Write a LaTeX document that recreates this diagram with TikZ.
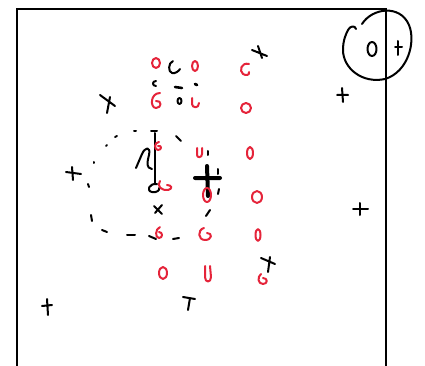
\documentclass[tikz,border=0pt]{standalone}
\usepackage{tikz}
\begin{document}
\begin{tikzpicture}[
    x=1pt, y=-1pt,
    frame/.style={draw=black, line width=2.2pt},
    ink/.style={draw=black, line width=2pt, line cap=round, line join=round},
    boldink/.style={draw=black, line width=4pt, line cap=round},
    redink/.style={draw=markRed, line width=2pt, line cap=round, line join=round}
  ]
    \definecolor{markRed}{RGB}{229,36,58}

    \useasboundingbox[fill=white] (0,0) rectangle (425,366);

    % frame and corner circle
    \draw[frame] (17,366) -- (17,9) -- (386,9) -- (386,366);
    \draw[ink] (362,24) .. controls (372,8) and (400,4) .. (409,25)
      .. controls (416,42) and (408,72) .. (385,79)
      .. controls (362,84) and (343,68) .. (343,50)
      .. controls (343,40) and (346,34) .. (348,30)
      .. controls (350,26) and (355,25) .. (356,29);
    \draw[ink] (372,49) ellipse [x radius=4.5, y radius=7];
    \draw[ink] (395,47) -- (402,47) (398,41) -- (398,55);

    % crosses
    \draw[ink] (252,50) -- (267,56) (258,46) -- (262,58);
    \draw[ink] (100,95) -- (115,106) (110,97) -- (107,113);
    \draw[ink] (66,172) -- (81,174) (72,167) -- (73,180);
    \draw[ink] (337,95) -- (348,95) (342,88) -- (343,102);
    \draw[ink] (353,209) -- (368,209) (360,203) -- (360,215);
    \draw[ink] (42,306) -- (52,305) (47,299) -- (48,315);
    \draw[ink] (183,297) -- (195,299) (190,298) -- (188,310);
    \draw[ink] (261,258) -- (275,264) (270,257) -- (268,272);
    \draw[ink] (154,206) -- (162,214) (162,205) -- (155,213);
    \draw[boldink] (195,178) -- (220,178) (207,166) -- (208,196);

    % black strokes
    \draw[ink] (173,61) .. controls (168,63) and (168,72) .. (172,73) .. controls (175,74) and (179,71) .. (180,69);
    \draw[ink] (156,81) .. controls (152,81) and (152,86) .. (156,86);
    \draw[ink, line width=2.6pt] (175,87) -- (182,88);
    \draw[ink, line width=2.8pt] (195,84) -- (197,85);
    \draw[ink] (179.5,101) ellipse [x radius=2, y radius=3];
    \draw[ink] (136,168) -- (142,154) .. controls (145,147) and (151,146) .. (149,155) .. controls (147,163) and (146,168) .. (152,169);
    \draw[ink] (155,133) -- (155,183);
    \draw[ink] (157,184) .. controls (149,183) and (146,191) .. (152,192) .. controls (157,193) and (160,190) .. (159,188);

    % dashed loop
    \foreach \xa/\ya/\xb/\yb in {115/137/117/136, 134/131/136/131, 151/131/157/131,
        176/136/181/141, 106/146/107/145, 94/162/94/163, 88/184/89/187,
        91/215/92/221, 102/230/107/232, 127/235/135/235, 149/236/156/239,
        173/239/179/238, 206/216/210/210, 208/151/208/155, 218/169/218/174,
        219/189/218/194}
      \draw[ink] (\xa,\ya) -- (\xb,\yb);

    % red marks
    \foreach \cx/\cy/\rx/\ry in {156/63/4/5, 195/66/3/5, 246/108/5/5, 250/153/3/6,
        207/195/4/7, 257/197/5/6, 258/235/2.5/6, 163/273/4/6}
      \draw[redink] (\cx,\cy) ellipse [x radius=\rx, y radius=\ry];
    \draw[redink] (160,93) .. controls (150,93) and (150,108) .. (156,108) .. controls (162,108) and (162,100) .. (156,101);
    \draw[redink] (159,142) .. controls (154,142) and (154,150) .. (158,150) .. controls (162,150) and (162,145) .. (158,146);
    \draw[redink] (160,181) .. controls (156,186) and (162,191) .. (168,190) .. controls (173,189) and (172,185) .. (167,185);
    \draw[redink] (160,227) .. controls (155,229) and (155,238) .. (159,238) .. controls (163,238) and (163,232) .. (159,232);
    \draw[redink] (204,228) .. controls (197,230) and (198,240) .. (205,240) .. controls (212,240) and (213,233) .. (207,233);
    \draw[redink] (261,274) .. controls (257,277) and (258,284) .. (263,284) .. controls (268,284) and (268,278) .. (263,278);
    \draw[redink] (249,64) .. controls (241,62) and (239,71) .. (243,74) .. controls (246,76) and (250,75) .. (249,72);
    \draw[redink] (192,98) -- (192,104) .. controls (192,108) and (199,109) .. (199,103);
    \draw[redink] (197,148) -- (197,155) .. controls (197,158) and (202,158) .. (202,154) -- (202,148);
    \draw[redink] (205,266) -- (205,277) .. controls (205,283) and (211,283) .. (211,277) -- (210,266);
  \end{tikzpicture}
\end{document}
